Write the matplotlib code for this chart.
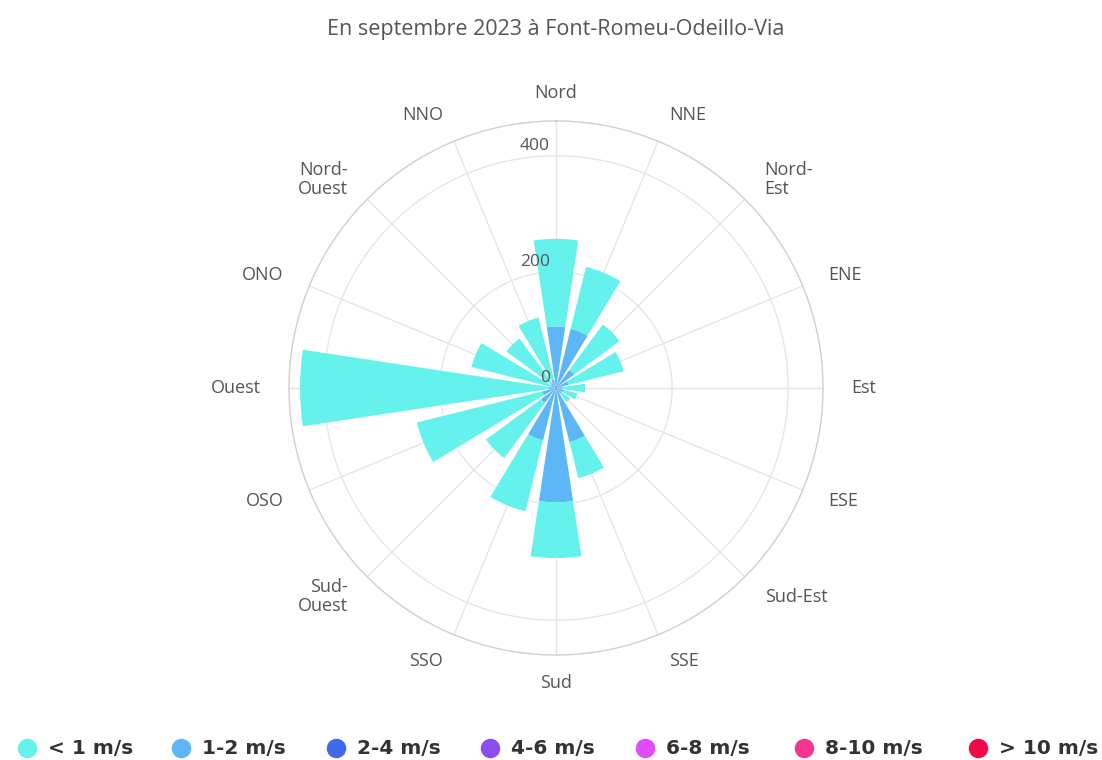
import numpy as np
import matplotlib.pyplot as plt
from matplotlib.lines import Line2D

# directions, clockwise from north
directions = ['Nord', 'NNE', 'Nord-\nEst', 'ENE', 'Est', 'ESE', 'Sud-Est', 'SSE',
              'Sud', 'SSO', 'Sud-\nOuest', 'OSO', 'Ouest', 'ONO', 'Nord-\nOuest', 'NNO']

speed_labels = ['< 1 m/s', '1-2 m/s', '2-4 m/s', '4-6 m/s', '6-8 m/s', '8-10 m/s', '> 10 m/s']
speed_colors = ['#66f2ec', '#5db6f6', '#4268ea', '#8b4cf0', '#e04cf5', '#f4368f', '#ee0a45']

# frequencies per speed class
v_lt1 = [151, 110, 97, 98, 39, 24, 18, 64, 96, 126, 118, 223, 428, 141, 95, 110]
v_1_2 = [102, 100, 36, 20, 10, 12, 10, 93, 192, 90, 30, 22, 12, 8, 10, 14]
v_2_4 = [4, 5, 3, 2, 1, 2, 2, 3, 5, 3, 2, 2, 1, 1, 1, 1]
v_4_6 = [0] * 16
v_6_8 = [0] * 16
v_8_10 = [0] * 16
v_gt10 = [0] * 16

series = [v_lt1, v_1_2, v_2_4, v_4_6, v_6_8, v_8_10, v_gt10]

title = 'En septembre 2023 à Font-Romeu-Odeillo-Via'
r_ticks = [0, 200, 400]
r_max = 460

W, H = 1102, 760
cx, cy, rad = 556, 388, 267

fig = plt.figure(figsize=(W / 100, H / 100), dpi=100)
ax = fig.add_axes([(cx - rad) / W, (H - cy - rad) / H, 2 * rad / W, 2 * rad / H],
                  projection='polar')
ax.set_theta_zero_location('N')
ax.set_theta_direction(-1)
ax.set_ylim(0, r_max)

theta = np.arange(len(directions)) * 2 * np.pi / len(directions)
width = 0.30

# innermost class is the fastest one, slowest is on the outside
bottom = np.zeros(len(directions))
for vals, col in reversed(list(zip(series, speed_colors))):
    vals = np.array(vals, dtype=float)
    ax.bar(theta, vals, width=width, bottom=bottom, color=col,
           edgecolor='none', linewidth=0, zorder=3)
    bottom += vals

ax.set_xticks(theta)
ax.set_xticklabels([])
ax.set_yticks(r_ticks[1:])
ax.set_yticklabels([])
ax.grid(True, color='#e6e6e6', linewidth=1)
ax.spines['polar'].set_color('#d0d0d0')
ax.spines['polar'].set_linewidth(1)

# category labels
r_lab = 295 / (rad / r_max)
for t, lab in zip(theta, directions):
    s = np.sin(t)
    if abs(s) < 0.2:
        ha = 'center'
    elif s > 0:
        ha = 'left'
    else:
        ha = 'right'
    ax.text(t, r_lab, lab, ha=ha, va='center', fontsize=13, color='#555555',
            family='Open Sans', linespacing=1.1, clip_on=False)

# radial labels
for r in r_ticks:
    ax.annotate(str(r), xy=(0, r), xytext=(-4.5, 7), textcoords='offset points',
                ha='right', va='center', fontsize=12.5, color='#555555',
                family='Open Sans', zorder=5)

fig.text(cx / W, 1 - 30 / H, title, ha='center', va='center', fontsize=15.5,
         color='#555555', family='Open Sans')

# legend
leg_x = [27, 181, 336, 490, 645, 804, 978]
leg_y = 1 - 748 / H
for x, lab, col in zip(leg_x, speed_labels, speed_colors):
    fig.add_artist(Line2D([x / W], [leg_y], transform=fig.transFigure, marker='o',
                          markersize=13, color=col, linestyle='none'))
    fig.text((x + 21) / W, leg_y, lab, ha='left', va='center', fontsize=14.5,
             fontweight='bold', color='#333333')

fig.savefig('out.png', dpi=100)
